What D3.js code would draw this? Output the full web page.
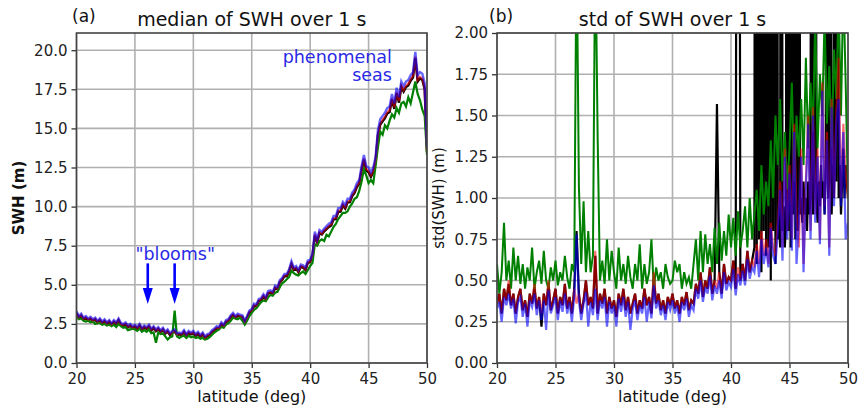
<!DOCTYPE html>
<html><head><meta charset="utf-8">
<script src="https://cdn.jsdelivr.net/npm/d3@7"></script>
<style>
body{margin:0;background:#fff;}
svg{display:block;font-family:"DejaVu Sans",sans-serif;}
</style></head>
<body><svg id="c" width="860" height="409"></svg>
<script>
// ---------- DATA ----------
// latitude sampling (deg)
const latStep = 0.2;
const latitudes = d3.range(0, 151).map(i => +(20 + i * latStep).toFixed(2));
const xTicks = [20, 25, 30, 35, 40, 45, 50];
const swhTicks = [0, 2.5, 5, 7.5, 10, 12.5, 15, 17.5, 20];
const stdTicks = [0, 0.25, 0.5, 0.75, 1.0, 1.25, 1.5, 1.75, 2.0];

// (a) median SWH (m)
const swhBlue = [
3.3,3.0,3.15,2.9,3.0, 2.85,2.95,2.8,2.9,2.7, 2.85,2.65,2.8,2.6,2.75, 2.55,2.75,2.6,2.85,2.55,
2.5,2.6,2.4,2.5,2.35, 2.45,2.3,2.5,2.25,2.4, 2.3,2.45,2.2,2.35,2.15, 2.3,2.1,2.25,2.0,2.15,
1.9,2.05,2.15,1.9,1.95, 1.9,2.1,1.85,2.05,1.95, 2.05,1.85,2.0,1.8,1.95, 1.7,1.85,1.9,2.1,2.2,
2.35,2.3,2.6,2.45,2.75, 2.8,3.05,3.2,3.0,3.15, 3.1,3.05,2.7,3.0,3.35, 3.45,3.8,3.75,4.1,4.15,
4.4,4.2,4.6,4.65,4.55, 4.95,4.85,5.3,5.45,5.7, 5.7,6.0,6.5,6.1,6.2, 5.95,6.3,6.25,6.1,6.55,
6.6,7.0,8.4,7.9,8.5, 8.4,8.6,8.75,8.9,9.0, 9.4,9.4,9.9,9.9,10.3, 10.1,10.5,10.5,10.9,11.1,
11.5,11.7,12.6,13.3,12.6, 12.5,12.2,12.5,13.2,14.9, 15.6,15.8,16.0,16.3,16.4, 17.2,16.6,17.6,17.0,18.0,
17.7,18.0,18.1,18.4,18.6, 19.9,18.4,18.6,18.5,17.9, 13.8];
const swhRed = [
3.22,2.93,3.07,2.83,2.92, 2.78,2.88,2.72,2.83,2.63, 2.78,2.58,2.72,2.53,2.68, 2.48,2.67,2.53,2.77,2.48,
2.43,2.52,2.33,2.43,2.28, 2.38,2.23,2.42,2.18,2.33, 2.23,2.37,2.13,2.28,2.08, 2.22,2.03,2.18,1.93,2.07,
1.83,1.98,2.07,1.83,1.88, 1.83,2.02,1.78,1.97,1.88, 1.97,1.78,1.92,1.73,1.88, 1.63,1.77,1.83,2.02,2.13,
2.27,2.23,2.52,2.38,2.67, 2.72,2.97,3.12,2.93,3.07, 3.02,2.97,2.63,2.92,3.27, 3.37,3.7,3.67,4.0,4.07,
4.3,4.12,4.5,4.55,4.47, 4.85,4.76,5.2,5.35,5.6, 5.6,5.9,6.38,6.0,6.1, 5.86,6.2,6.15,6.0,6.45,
6.5,6.9,8.25,7.78,8.38, 8.28,8.48,8.62,8.77,8.87, 9.26,9.27,9.75,9.76,10.15, 9.96,10.35,10.36,10.75,10.95,
11.33,11.55,12.4,13.1,12.4, 12.3,12.0,12.3,13.0,14.65, 15.35,15.55,15.75,16.05,16.15, 16.95,16.35,17.35,16.75,17.75,
17.45,17.75,17.85,18.15,18.35, 19.6,18.1,18.3,18.2,17.6, 13.6];
const swhBlack = [
3.17,2.88,3.02,2.78,2.87, 2.73,2.83,2.67,2.78,2.58, 2.73,2.53,2.67,2.48,2.63, 2.43,2.62,2.48,2.72,2.43,
2.38,2.47,2.28,2.38,2.23, 2.33,2.18,2.37,2.13,2.28, 2.18,2.32,2.08,2.23,2.03, 2.17,1.98,2.13,1.88,2.02,
1.78,1.93,2.02,1.78,1.83, 1.78,1.97,1.73,1.92,1.83, 1.92,1.73,1.87,1.68,1.83, 1.58,1.72,1.78,1.97,2.08,
2.22,2.18,2.47,2.33,2.62, 2.67,2.92,3.07,2.88,3.02, 2.97,2.92,2.58,2.87,3.22, 3.32,3.65,3.62,3.95,4.02,
4.25,4.07,4.45,4.5,4.42, 4.8,4.71,5.15,5.3,5.55, 5.55,5.85,6.3,5.95,6.05, 5.81,6.15,6.1,5.95,6.4,
6.45,6.85,8.15,7.72,8.3, 8.22,8.42,8.56,8.7,8.8, 9.18,9.2,9.67,9.68,10.07, 9.88,10.27,10.28,10.67,10.87,
11.25,11.47,12.3,13.0,12.3, 12.2,11.9,12.2,12.9,14.55, 15.25,15.45,15.65,15.95,16.05, 16.85,16.25,17.25,16.65,17.65,
17.35,17.65,17.75,18.05,18.25, 19.5,18.0,18.2,18.1,17.5, 13.5];
const swhGreen = [
2.95,2.8,2.85,2.7,2.65, 2.7,2.6,2.65,2.5,2.55, 2.55,2.45,2.5,2.4,2.45, 2.35,2.45,2.3,2.5,2.35,
2.25,2.3,2.1,2.15,2.2, 2.15,2.05,2.2,2.0,2.1, 2.0,2.15,1.9,1.95,1.3, 1.95,1.85,1.9,1.7,1.5,
1.65,1.7,3.35,1.7,1.6, 1.7,1.75,1.6,1.75,1.65, 1.7,1.6,1.65,1.55,1.6, 1.5,1.55,1.65,1.8,1.95,
2.05,2.15,2.3,2.25,2.45, 2.55,2.7,2.9,2.85,2.8, 2.9,2.7,2.45,2.7,3.0, 3.2,3.4,3.5,3.7,3.9,
4.0,3.95,4.2,4.35,4.3, 4.5,4.55,4.85,5.1,5.2, 5.35,5.5,5.9,5.75,5.65, 5.6,5.75,5.85,5.7,5.95,
6.2,6.4,7.6,7.5,7.8, 7.9,7.8,8.2,8.1,8.4, 8.7,8.9,9.2,9.4,9.6, 9.6,9.7,10.0,10.2,10.5,
10.6,11.0,11.6,12.4,12.0, 11.5,11.7,11.5,12.6,13.8, 14.8,14.6,15.2,15.0,15.5, 15.9,15.7,16.3,16.0,16.6,
16.7,16.4,17.0,16.6,17.3, 18.0,17.2,16.8,16.2,15.8, 13.3];

// (b) std of SWH (m)
const stdGreen = [
0.6,0.42,0.55,0.85,0.5, 0.62,0.45,0.7,0.5,0.65, 0.48,0.6,0.45,0.58,0.5, 0.7,0.45,0.55,0.62,0.48,
0.68,0.5,0.45,0.58,0.5, 0.62,0.47,0.55,0.5,0.65, 0.52,0.45,0.6,0.55,2.6, 1.07,0.6,0.98,0.55,0.8,
0.55,0.65,2.6,1.38,0.5, 0.62,0.48,0.75,0.5,0.68, 0.55,0.45,0.7,0.5,0.6, 0.48,0.65,0.52,0.45,0.6,
0.5,0.72,0.45,0.6,0.48, 0.55,0.75,0.45,0.58,0.5, 0.55,0.45,0.6,0.52,0.48, 0.5,0.62,0.55,0.6,0.45,
0.55,0.48,0.52,0.45,0.6, 0.75,0.5,0.8,0.55,0.78, 0.6,0.72,0.55,0.82,0.6, 0.85,0.62,0.8,0.65,0.9,
0.7,0.88,0.65,0.92,0.7, 0.8,0.95,0.7,1.0,0.75, 0.9,1.05,0.8,1.2,0.9, 1.1,0.95,1.35,1.0,1.5,
1.2,1.6,1.1,1.4,1.05, 1.3,1.7,1.1,1.5,1.25, 1.6,1.2,1.85,1.3,1.7, 1.4,2.1,1.3,1.75,1.5,
2.1,1.45,1.8,1.3,1.9, 1.6,2.2,1.5,2.3,1.7, 1.0];
const stdRed = [
0.35,0.42,0.3,0.45,0.38, 0.5,0.35,0.42,0.3,0.4, 0.45,0.32,0.38,0.28,0.42, 0.36,0.48,0.33,0.4,0.3,
0.42,0.35,0.5,0.32,0.38, 0.45,0.3,0.4,0.35,0.48, 0.33,0.4,0.3,0.45,0.36, 0.42,0.3,0.38,0.5,0.35,
0.4,0.33,0.68,0.3,0.42, 0.36,0.45,0.3,0.4,0.33, 0.38,0.28,0.42,0.35,0.45, 0.32,0.4,0.3,0.36,0.42,
0.3,0.38,0.33,0.45,0.35, 0.4,0.3,0.55,0.36,0.42, 0.32,0.38,0.3,0.4,0.35, 0.42,0.33,0.38,0.3,0.4,
0.35,0.43,0.32,0.38,0.36, 0.48,0.42,0.55,0.4,0.5, 0.45,0.58,0.42,0.5,0.45, 0.55,0.42,0.6,0.48,0.52,
0.5,0.62,0.45,0.58,0.5, 0.6,0.5,0.68,0.55,0.62, 0.58,0.72,0.6,0.8,0.65, 0.75,0.6,0.85,0.7,0.65,
0.85,1.1,0.7,1.3,0.8, 1.2,0.75,1.45,0.9,0.7, 1.3,0.6,1.1,1.5,0.8, 1.55,0.9,1.3,0.75,1.7,
0.95,1.4,0.7,1.6,1.0, 1.5,1.85,1.0,1.45,1.15, 1.0];
const stdBlue = [
0.33,0.37,0.25,0.4,0.35, 0.42,0.33,0.39,0.24,0.37, 0.4,0.28,0.36,0.22,0.38, 0.34,0.42,0.29,0.38,0.26,
0.38,0.2,0.44,0.3,0.35, 0.4,0.26,0.38,0.31,0.42, 0.3,0.37,0.25,0.4,0.78, 0.38,0.26,0.36,0.43,0.22,
0.37,0.29,0.45,0.26,0.38, 0.33,0.4,0.22,0.37,0.3, 0.35,0.22,0.39,0.31,0.4, 0.28,0.37,0.2,0.33,0.38,
0.26,0.35,0.3,0.4,0.25, 0.37,0.27,0.47,0.33,0.38, 0.29,0.35,0.26,0.37,0.32, 0.38,0.3,0.35,0.25,0.37,
0.32,0.39,0.28,0.35,0.32, 0.45,0.39,0.5,0.37,0.46, 0.42,0.53,0.38,0.47,0.42, 0.5,0.39,0.55,0.44,0.49,
0.46,0.57,0.41,0.54,0.47, 0.56,0.47,0.63,0.51,0.58, 0.55,0.68,0.52,0.75,0.6, 0.7,0.58,0.82,0.65,0.6,
0.8,1.05,0.62,1.25,0.75, 1.15,0.68,1.4,0.6,0.85, 1.25,0.55,1.05,1.45,0.75, 1.5,0.85,1.25,0.72,1.65,
0.9,1.35,0.65,1.55,0.95, 1.45,1.6,0.95,1.4,0.75, 0.85];
// black series: 0.2 deg sampling to 41.8, then 0.1 deg sampling 42-50
const stdBlackLat = d3.range(0, 110).map(i => +(20 + i * 0.2).toFixed(2))
  .concat(d3.range(0, 81).map(i => +(42 + i * 0.1).toFixed(2)));
const stdBlack = [
0.36,0.42,0.3,0.45,0.38, 0.48,0.35,0.42,0.3,0.4, 0.45,0.32,0.38,0.28,0.42, 0.36,0.46,0.33,0.4,0.22,
0.42,0.35,0.48,0.32,0.38, 0.45,0.3,0.4,0.35,0.48, 0.33,0.4,0.3,0.45,0.8, 0.42,0.3,0.38,0.5,0.35,
0.4,0.33,0.65,0.3,0.42, 0.36,0.45,0.3,0.4,0.33, 0.38,0.28,0.42,0.35,0.45, 0.32,0.4,0.3,0.36,0.42,
0.3,0.38,0.33,0.45,0.35, 0.4,0.3,0.52,0.36,0.42, 0.32,0.38,0.3,0.4,0.35, 0.42,0.33,0.38,0.3,0.4,
0.35,0.43,0.32,0.38,0.36, 0.48,0.42,0.55,0.4,0.5, 0.45,0.58,0.42,0.5,1.57, 0.55,0.42,0.6,0.48,0.52,
0.5,0.62,0.45,9,0.5, 0.6,0.5,0.68,0.55,0.62,
0.7,9,0.6,9,0.75,9,0.55,9,0.8,9,
0.65,9,0.7,9,0.5,9,0.8,9,0.6,9,
0.75,0.9,0.7,9,0.8,0.95,0.7,0.85,9,0.8,
9,0.7,9,0.9,9,0.75,9,0.8,9,0.9,
1.0,0.85,1.1,0.9,1.0,0.8,1.1,0.9,1.0,9,
0.9,1.1,9,1.0,0.85,1.1,0.95,1.2,1.0,1.1,
0.9,1.2,9,1.0,1.1,9,0.9,1.2,1.0,9,
1.1,9,1.0,1.2,0.9,1.1,1.3,1.0,1.2,1.1, 1.0];

// ---------- DRAW ----------
const svg = d3.select("#c");
const FONT = '"DejaVu Sans", sans-serif';

function panel(opts) {
  const {x0, x1, y0, y1, yDomain, ticksY, fmtY, id} = opts;
  const x = d3.scaleLinear().domain([20, 50]).range([x0, x1]);
  const y = d3.scaleLinear().domain(yDomain).range([y1, y0]);
  const g = svg.append("g");
  svg.append("clipPath").attr("id", id).append("rect")
    .attr("x", x0).attr("y", y0).attr("width", x1 - x0).attr("height", y1 - y0);
  // grid
  g.append("g").selectAll("line").data(xTicks).join("line")
    .attr("x1", d => x(d)).attr("x2", d => x(d)).attr("y1", y0).attr("y2", y1)
    .attr("stroke", "#b0b0b0").attr("stroke-width", 1.6);
  g.append("g").selectAll("line").data(ticksY).join("line")
    .attr("y1", d => y(d)).attr("y2", d => y(d)).attr("x1", x0).attr("x2", x1)
    .attr("stroke", "#b0b0b0").attr("stroke-width", 1.6);
  const plot = g.append("g").attr("clip-path", `url(#${id})`);
  // axes
  const ax = g.append("g").attr("transform", `translate(0,${y1})`)
    .call(d3.axisBottom(x).tickValues(xTicks).tickFormat(d3.format("d")).tickSize(5).tickPadding(5).tickSizeOuter(0));
  const ay = g.append("g").attr("transform", `translate(${x0},0)`)
    .call(d3.axisLeft(y).tickValues(ticksY).tickFormat(d3.format(fmtY)).tickSize(5).tickPadding(4).tickSizeOuter(0));
  [ax, ay].forEach(a => {
    a.select(".domain").remove();
    a.selectAll("line").attr("stroke", "#333").attr("stroke-width", 1.3);
    a.selectAll("text").attr("font-family", FONT).attr("font-size", 15).attr("fill", "#222");
  });
  g.append("rect").attr("x", x0).attr("y", y0).attr("width", x1 - x0).attr("height", y1 - y0)
    .attr("fill", "none").attr("stroke", "#444").attr("stroke-width", 1.6);
  return {x, y, plot, g};
}

function drawLine(p, xs, ys, color, w) {
  const pts = xs.map((d, i) => [d, ys[i]]).filter(d => d[1] != null);
  p.plot.append("path").datum(pts)
    .attr("d", d3.line().x(d => p.x(d[0])).y(d => p.y(d[1])))
    .attr("fill", "none").attr("stroke", color).attr("stroke-width", w)
    .attr("stroke-linejoin", "miter");
}

const RED = "rgba(255,0,0,0.55)", BLUE = "rgba(0,0,255,0.6)";

// Panel (a)
const pa = panel({x0: 76.5, x1: 427, y0: 33, y1: 363, yDomain: [0, 21.1], ticksY: swhTicks, fmtY: ".1f", id: "clipA"});
drawLine(pa, latitudes, swhBlack, "#000", 2.4);
drawLine(pa, latitudes, swhGreen, "#008000", 2.2);
drawLine(pa, latitudes, swhRed, RED, 2.4);
drawLine(pa, latitudes, swhBlue, BLUE, 2.4);

// Panel (b)
const pb = panel({x0: 497, x1: 848, y0: 33, y1: 363, yDomain: [0, 2], ticksY: stdTicks, fmtY: ".2f", id: "clipB"});
drawLine(pb, stdBlackLat, stdBlack, "#000", 2.2);
drawLine(pb, latitudes, stdGreen, "#008000", 2.0);
drawLine(pb, latitudes, stdRed, RED, 2.2);
drawLine(pb, latitudes, stdBlue, BLUE, 2.2);

// titles & labels
function txt(x, y, s, size, opts = {}) {
  const t = svg.append("text").attr("x", x).attr("y", y).text(s)
    .attr("font-family", FONT).attr("font-size", size).attr("fill", opts.fill || "#111")
    .attr("text-anchor", opts.anchor || "start");
  if (opts.weight) t.attr("font-weight", opts.weight);
  if (opts.rotate) t.attr("transform", `rotate(-90,${x},${y})`);
  return t;
}
txt(72, 22, "(a)", 17);
txt((76.5 + 427) / 2, 26, "median of SWH over 1 s", 19, {anchor: "middle"});
txt(489, 22, "(b)", 17);
txt((497 + 848) / 2, 26, "std of SWH over 1 s", 19, {anchor: "middle"});
txt((76.5 + 427) / 2, 402, "latitude (deg)", 16, {anchor: "middle"});
txt((497 + 848) / 2, 402, "latitude (deg)", 16, {anchor: "middle"});
txt(24, 198, "SWH (m)", 15, {anchor: "middle", weight: "bold", rotate: true});
txt(444, 198, "std(SWH) (m)", 15, {anchor: "middle", rotate: true});

// annotations (panel a, data coordinates)
const ANN = "#2a2ae6";
txt(pa.x(47.0), pa.y(19.2), "phenomenal", 17.5, {anchor: "end", fill: ANN});
txt(pa.x(47.0), pa.y(18.0), "seas", 17.5, {anchor: "end", fill: ANN});
txt(pa.x(28.45), pa.y(6.6), "\"blooms\"", 17.5, {anchor: "middle", fill: ANN});
[26.1, 28.4].forEach(lat => {
  const ax = pa.x(lat), yTop = pa.y(6.37), yTip = pa.y(3.77), yHead = yTip - 16;
  svg.append("line").attr("x1", ax).attr("x2", ax).attr("y1", yTop).attr("y2", yHead + 2)
    .attr("stroke", "blue").attr("stroke-width", 2.6);
  svg.append("path").attr("d", `M${ax - 5},${yHead} L${ax + 5},${yHead} L${ax},${yTip} Z`).attr("fill", "blue");
});
</script></body></html>
